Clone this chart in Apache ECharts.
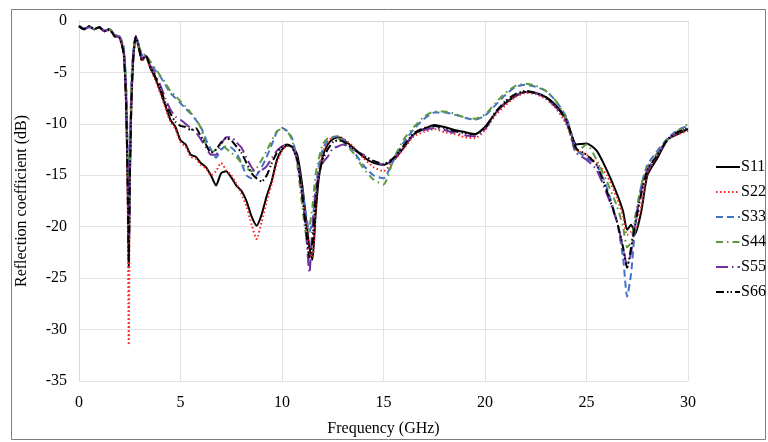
<!DOCTYPE html>
<html>
<head>
<meta charset="utf-8">
<script src="https://cdn.jsdelivr.net/npm/echarts@6/dist/echarts.min.js"></script>
<style>html,body{margin:0;padding:0;background:#fff}#c{width:768px;height:442px}</style>
</head>
<body>
<div id="c"></div>
<script>
var freq = [0,0.25,0.5,0.75,1,1.25,1.5,1.75,2,2.2,
  2.32,2.4,2.45,2.5,2.58,2.68,2.8,2.95,3.1,3.3,
  3.5,3.75,4,4.25,4.5,4.75,5,5.25,5.5,5.75,
  6,6.25,6.5,6.75,7,7.25,7.5,7.75,8,8.25,
  8.5,8.75,9,9.25,9.5,9.75,10,10.25,10.5,10.75,
  11,11.2,11.35,11.5,11.65,11.8,12,12.25,12.5,12.75,
  13,13.5,14,14.5,15,15.5,16,16.5,17,17.5,
  18,18.5,19,19.5,20,20.5,21,21.5,22,22.5,
  23,23.5,24,24.5,25,25.5,26,26.5,26.8,27,
  27.2,27.4,27.7,28,28.5,29,29.5,30];

var s11 = [-0.5,-0.8,-0.5,-0.8,-0.6,-1.0,-0.8,-1.4,-1.6,-3.0,
  -8,-16,-24,-16,-8,-3.5,-1.5,-2.6,-3.8,-3.4,
  -4.5,-5.5,-6.8,-8.2,-9.6,-10.3,-11.6,-12.0,-13.0,-13.2,
  -13.8,-14.2,-15.0,-16.0,-14.8,-14.6,-15.2,-16.0,-16.5,-17.5,
  -19.0,-19.9,-18.8,-17.0,-15.5,-13.5,-12.5,-12.1,-12.2,-13.0,
  -16.0,-19.5,-22.0,-23.2,-19.0,-15.5,-13.2,-12.0,-11.5,-11.3,
  -11.5,-12.3,-13.2,-13.8,-14.0,-13.5,-12.3,-11.0,-10.5,-10.1,
  -10.3,-10.6,-10.8,-11.0,-10.3,-9.0,-8.0,-7.3,-6.9,-7.0,
  -7.4,-8.2,-9.5,-12.0,-11.9,-12.6,-14.5,-16.8,-18.5,-20.3,
  -19.8,-20.7,-18.5,-15.0,-13.3,-11.5,-11.0,-10.5];

var s22 = [-0.5,-0.8,-0.6,-0.8,-0.6,-1.0,-0.9,-1.4,-1.7,-3.2,
  -8.5,-18,-31.5,-17,-8.5,-3.6,-1.6,-2.7,-3.9,-3.5,
  -4.6,-5.7,-7.0,-8.4,-9.8,-10.5,-11.8,-12.2,-13.2,-13.4,
  -14.0,-14.3,-15.0,-14.6,-13.8,-14.5,-15.0,-15.8,-16.8,-18.0,
  -19.8,-21.2,-19.5,-17.5,-15.8,-13.8,-12.6,-12.1,-12.2,-13.5,
  -16.5,-20.0,-22.5,-23.0,-18.5,-15.0,-12.8,-11.8,-11.3,-11.2,
  -11.4,-12.2,-13.3,-14.2,-14.6,-13.6,-12.4,-11.2,-10.8,-10.5,
  -10.8,-11.0,-11.3,-11.4,-10.6,-9.2,-8.2,-7.4,-7.0,-7.1,
  -7.6,-8.5,-10.0,-12.5,-13.0,-13.8,-15.0,-17.2,-19.0,-20.8,
  -20.5,-20.3,-18.0,-14.8,-13.0,-11.5,-11.0,-10.7];

var s33 = [-0.5,-0.7,-0.6,-0.8,-0.6,-0.9,-0.8,-1.3,-1.5,-2.5,
  -6,-13,-21,-14,-6,-2.8,-1.5,-2.3,-3.3,-3.4,
  -4.0,-4.8,-5.4,-6.2,-7.0,-7.5,-8.0,-8.5,-9.0,-9.6,
  -10.3,-11.5,-12.5,-13.3,-12.5,-12.2,-12.3,-12.8,-13.8,-15.0,
  -15.3,-15.0,-14.2,-13.2,-12.0,-10.8,-10.4,-10.7,-11.4,-13.5,
  -16.5,-19.0,-20.5,-19.5,-16.5,-14.2,-12.5,-11.6,-11.3,-11.2,
  -11.5,-12.6,-14.0,-15.0,-15.3,-13.5,-11.8,-10.5,-9.5,-8.9,
  -8.9,-9.1,-9.4,-9.6,-9.2,-8.2,-7.2,-6.4,-6.2,-6.4,
  -6.8,-7.8,-9.3,-12.5,-13.3,-14.0,-16.2,-19.5,-23,-26.8,
  -24.5,-20.0,-16.0,-14.0,-12.6,-11.4,-10.6,-10.2];

var s44 = [-0.5,-0.8,-0.5,-0.8,-0.6,-1.0,-0.8,-1.3,-1.5,-2.6,
  -6.5,-14,-22,-14.5,-6.5,-2.9,-1.6,-2.4,-3.2,-3.3,
  -3.9,-4.6,-5.3,-6.0,-6.8,-7.3,-7.8,-8.3,-8.9,-9.5,
  -10.4,-12.0,-12.8,-12.5,-12.0,-12.4,-12.8,-13.2,-13.8,-14.3,
  -14.6,-14.3,-13.5,-12.6,-11.6,-10.7,-10.5,-10.7,-11.6,-14.0,
  -18.0,-20.8,-20.0,-18.0,-15.0,-13.5,-12.0,-11.4,-11.3,-11.4,
  -11.7,-12.8,-14.3,-15.4,-15.9,-13.4,-11.5,-10.3,-9.3,-8.8,
  -8.8,-9.0,-9.4,-9.5,-9.1,-8.0,-7.0,-6.3,-6.1,-6.3,
  -6.8,-7.8,-9.5,-12.8,-12.0,-13.5,-15.6,-18.0,-20.0,-22.0,
  -21.5,-19.0,-16.0,-14.2,-12.8,-11.5,-10.7,-10.0];

var s55 = [-0.5,-0.8,-0.6,-0.8,-0.6,-1.0,-0.8,-1.4,-1.6,-2.8,
  -7,-15,-22.5,-15,-7,-3,-1.5,-2.5,-3.6,-3.4,
  -4.3,-5.2,-6.2,-7.5,-8.6,-9.3,-9.6,-10.0,-10.4,-10.8,
  -11.5,-12.3,-13.0,-13.0,-12.0,-11.3,-11.3,-11.8,-12.3,-13.3,
  -14.2,-14.8,-14.5,-14.1,-13.3,-12.6,-12.2,-12.0,-12.3,-13.5,
  -17.0,-21.0,-24.5,-20.0,-16.8,-15.0,-13.8,-13.2,-12.4,-12.2,
  -12.0,-12.5,-13.0,-13.6,-14.0,-13.4,-12.2,-11.0,-10.6,-10.4,
  -10.6,-10.9,-11.1,-11.2,-10.5,-9.0,-7.9,-7.2,-6.9,-7.0,
  -7.5,-8.4,-9.8,-12.8,-13.5,-14.5,-16.8,-19.5,-22.0,-23.8,
  -22.5,-19.5,-16.5,-14.5,-13.0,-11.6,-10.8,-10.3];

var s66 = [-0.5,-0.8,-0.5,-0.8,-0.6,-1.0,-0.8,-1.5,-1.7,-3.2,
  -8,-16.5,-23.5,-16,-8,-3.4,-1.5,-2.6,-3.8,-3.4,
  -4.4,-5.4,-6.5,-7.9,-9.0,-9.8,-10.2,-10.3,-10.6,-10.4,
  -11.2,-12.0,-12.8,-12.5,-11.8,-11.4,-11.6,-12.2,-12.8,-13.8,
  -14.8,-15.3,-15.6,-15.0,-13.8,-12.8,-12.2,-12.0,-12.3,-13.5,
  -17.0,-20.5,-23.0,-21.5,-17.5,-15.2,-13.5,-12.5,-11.8,-11.6,
  -11.7,-12.4,-13.1,-13.6,-13.9,-13.3,-12.1,-10.9,-10.4,-10.2,
  -10.4,-10.7,-10.9,-11.0,-10.4,-8.9,-7.8,-7.1,-6.8,-7.0,
  -7.4,-8.3,-9.6,-12.4,-13.0,-14.0,-16.5,-19.5,-22.0,-24.0,
  -22.0,-19.8,-16.8,-14.5,-13.0,-11.5,-10.8,-10.4];

var seriesNames = ['S11','S22','S33','S44','S55','S66'];
var seriesVals = [s11,s22,s33,s44,s55,s66];
var colors = ['#000000','#ff2020','#4472c4','#5e9a3c','#7030a0','#000000'];
var dashes = ['solid',[1.5,2.5],[7,4],[7,4,1.5,4],[12,4,1.5,4],[8,3,1.5,2,1.5,3]];

function pairs(v){ return freq.map(function(f,i){ return [f, v[i]]; }); }

var series = seriesNames.map(function(n,k){
  return {
    name: n, type: 'line', data: pairs(seriesVals[k]),
    showSymbol: false, symbol: 'none', smooth: 0.2,
    lineStyle: { color: colors[k], width: 2, type: dashes[k] },
    itemStyle: { color: colors[k] }
  };
});

var font = 'Liberation Serif';
var chart = echarts.init(document.getElementById('c'));
chart.setOption({
  animation: false,
  backgroundColor: '#fff',
  graphic: [{ type: 'rect', shape: { x: 11.5, y: 9.5, width: 754, height: 430 },
    style: { fill: 'none', stroke: '#7f7f7f', lineWidth: 1 } }],
  grid: { left: 79, right: 80, top: 21, bottom: 60 },
  legend: {
    orient: 'vertical', left: 710, top: 154, itemGap: 9, itemWidth: 24, itemHeight: 16,
    itemStyle: { opacity: 0 },
    textStyle: { fontFamily: font, fontSize: 16, color: '#000', padding: [0,0,0,-4] },
    data: seriesNames
  },
  xAxis: {
    type: 'value', min: 0, max: 30, interval: 5,
    name: 'Frequency (GHz)', nameLocation: 'middle', nameGap: 40,
    nameTextStyle: { fontFamily: font, fontSize: 16, color: '#000' },
    axisLine: { show: true, lineStyle: { color: '#d9d9d9' } },
    axisTick: { show: false },
    axisLabel: { fontFamily: font, fontSize: 16, color: '#000', margin: 14 },
    splitLine: { show: true, lineStyle: { color: '#e3e3e3' } }
  },
  yAxis: {
    type: 'value', min: -35, max: 0, interval: 5,
    name: 'Reflection coefficient (dB)', nameLocation: 'middle', nameGap: 49,
    nameTextStyle: { fontFamily: font, fontSize: 16, color: '#000' },
    axisLine: { show: true, lineStyle: { color: '#d9d9d9' } },
    axisTick: { show: false },
    axisLabel: { fontFamily: font, fontSize: 16, color: '#000', margin: 12 },
    splitLine: { show: true, lineStyle: { color: '#e3e3e3' } }
  },
  series: series
});
</script>
</body>
</html>
